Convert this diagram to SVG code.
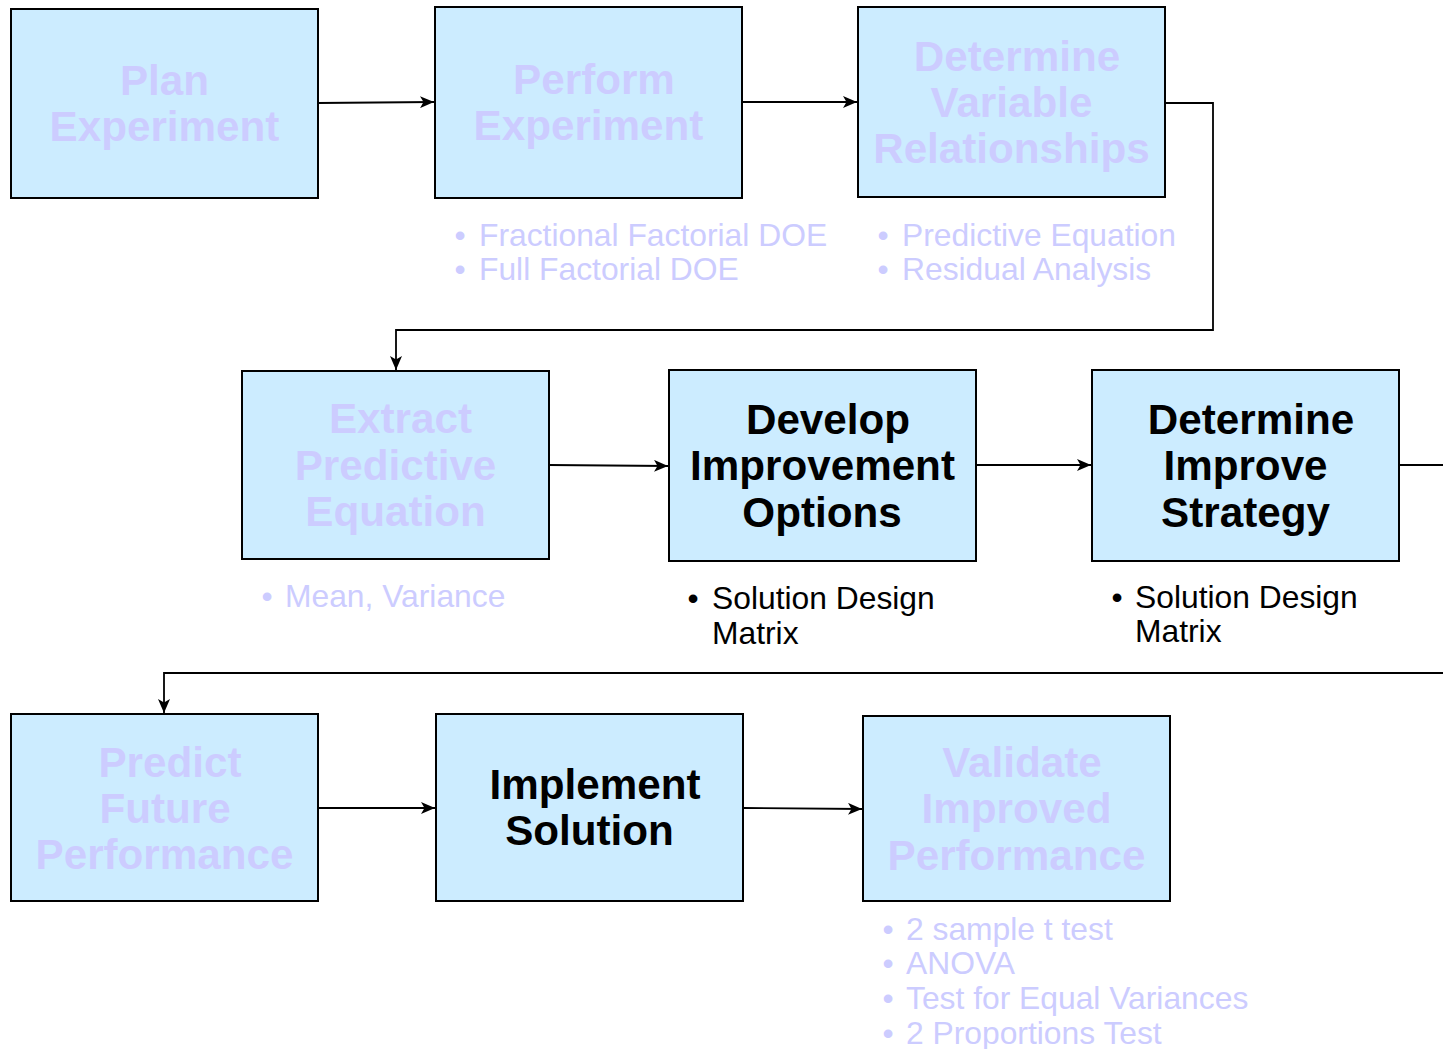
<svg xmlns="http://www.w3.org/2000/svg" width="1443" height="1049" viewBox="0 0 1443 1049">
  <defs>
    <marker id="arrow" viewBox="0 0 14 12" refX="14" refY="6" markerWidth="14" markerHeight="12" markerUnits="userSpaceOnUse" orient="auto">
      <path d="M0,0 L14,6 L0,12 L3.5,6 Z" fill="#000"/>
    </marker>
  </defs>
  <style>
    .box { fill: #CCECFF; stroke: #000; stroke-width: 2; }
    .title { font-family: "Liberation Sans", Arial, sans-serif; font-size: 42.2px; font-weight: bold; text-anchor: middle; }
    .dim { fill: #CCCCFF; }
    .on { fill: #000; }
    .item { font-family: "Liberation Sans", Arial, sans-serif; font-size: 31.8px; }
    .dot { text-anchor: middle; }
    .wire { fill: none; stroke: #000; stroke-width: 1.8; }
  </style>

  <rect width="1443" height="1049" fill="#fff"/>

  <g id="connectors">
    <path class="wire" d="M318,103 L434,102" marker-end="url(#arrow)"/>
    <path class="wire" d="M742,102 L857,102" marker-end="url(#arrow)"/>
    <path class="wire" d="M1165,103 H1213 V330 H396 V370" marker-end="url(#arrow)"/>
    <path class="wire" d="M549,465 L668,466" marker-end="url(#arrow)"/>
    <path class="wire" d="M976,465 L1091,465" marker-end="url(#arrow)"/>
    <path class="wire" d="M1399,465 H1443"/>
    <path class="wire" d="M1443,673 H164 V713" marker-end="url(#arrow)"/>
    <path class="wire" d="M318,808 L435,808" marker-end="url(#arrow)"/>
    <path class="wire" d="M743,808 L862,809" marker-end="url(#arrow)"/>
  </g>

  <g id="plan-experiment">
    <rect class="box" x="11" y="9" width="307" height="189"/>
    <text class="title dim"><tspan x="164.5" y="95">Plan</tspan><tspan x="164.5" y="141">Experiment</tspan></text>
  </g>

  <g id="perform-experiment">
    <rect class="box" x="435" y="7" width="307" height="191"/>
    <text class="title dim"><tspan x="594" y="94">Perform</tspan><tspan x="588.5" y="140">Experiment</tspan></text>
    <text class="item dim dot" x="460" y="246">•</text>
    <text class="item dim" x="479" y="246">Fractional Factorial DOE</text>
    <text class="item dim dot" x="460" y="280">•</text>
    <text class="item dim" x="479" y="280">Full Factorial DOE</text>
  </g>

  <g id="determine-variable-relationships">
    <rect class="box" x="858" y="7" width="307" height="190"/>
    <text class="title dim"><tspan x="1017" y="71">Determine</tspan><tspan x="1011.5" y="117">Variable</tspan><tspan x="1011.5" y="163">Relationships</tspan></text>
    <text class="item dim dot" x="883" y="246">•</text>
    <text class="item dim" x="902" y="246">Predictive Equation</text>
    <text class="item dim dot" x="883" y="280">•</text>
    <text class="item dim" x="902" y="280">Residual Analysis</text>
  </g>

  <g id="extract-predictive-equation">
    <rect class="box" x="242" y="371" width="307" height="188"/>
    <text class="title dim"><tspan x="400.5" y="433">Extract</tspan><tspan x="395.5" y="480">Predictive</tspan><tspan x="395.5" y="526">Equation</tspan></text>
    <text class="item dim dot" x="267" y="607">•</text>
    <text class="item dim" x="285" y="607">Mean, Variance</text>
  </g>

  <g id="develop-improvement-options">
    <rect class="box" x="669" y="370" width="307" height="191"/>
    <text class="title on"><tspan x="828" y="434">Develop</tspan><tspan x="822.5" y="480">Improvement</tspan><tspan x="822" y="527">Options</tspan></text>
    <text class="item on dot" x="693" y="609">•</text>
    <text class="item on" x="712" y="609">Solution Design</text>
    <text class="item on" x="712" y="644">Matrix</text>
  </g>

  <g id="determine-improve-strategy">
    <rect class="box" x="1092" y="370" width="307" height="191"/>
    <text class="title on"><tspan x="1251" y="434">Determine</tspan><tspan x="1245.5" y="480">Improve</tspan><tspan x="1245.5" y="527">Strategy</tspan></text>
    <text class="item on dot" x="1117" y="608">•</text>
    <text class="item on" x="1135" y="608">Solution Design</text>
    <text class="item on" x="1135" y="642">Matrix</text>
  </g>

  <g id="predict-future-performance">
    <rect class="box" x="11" y="714" width="307" height="187"/>
    <text class="title dim"><tspan x="170" y="777">Predict</tspan><tspan x="165" y="823">Future</tspan><tspan x="164.5" y="869">Performance</tspan></text>
  </g>

  <g id="implement-solution">
    <rect class="box" x="436" y="714" width="307" height="187"/>
    <text class="title on"><tspan x="595" y="799">Implement</tspan><tspan x="589.5" y="845">Solution</tspan></text>
  </g>

  <g id="validate-improved-performance">
    <rect class="box" x="863" y="716" width="307" height="185"/>
    <text class="title dim"><tspan x="1022" y="777">Validate</tspan><tspan x="1016.5" y="823">Improved</tspan><tspan x="1016.5" y="870">Performance</tspan></text>
    <text class="item dim dot" x="888" y="940">•</text>
    <text class="item dim" x="906" y="940">2 sample t test</text>
    <text class="item dim dot" x="888" y="974">•</text>
    <text class="item dim" x="906" y="974">ANOVA</text>
    <text class="item dim dot" x="888" y="1009">•</text>
    <text class="item dim" x="906" y="1009">Test for Equal Variances</text>
    <text class="item dim dot" x="888" y="1044">•</text>
    <text class="item dim" x="906" y="1044">2 Proportions Test</text>
  </g>
</svg>
